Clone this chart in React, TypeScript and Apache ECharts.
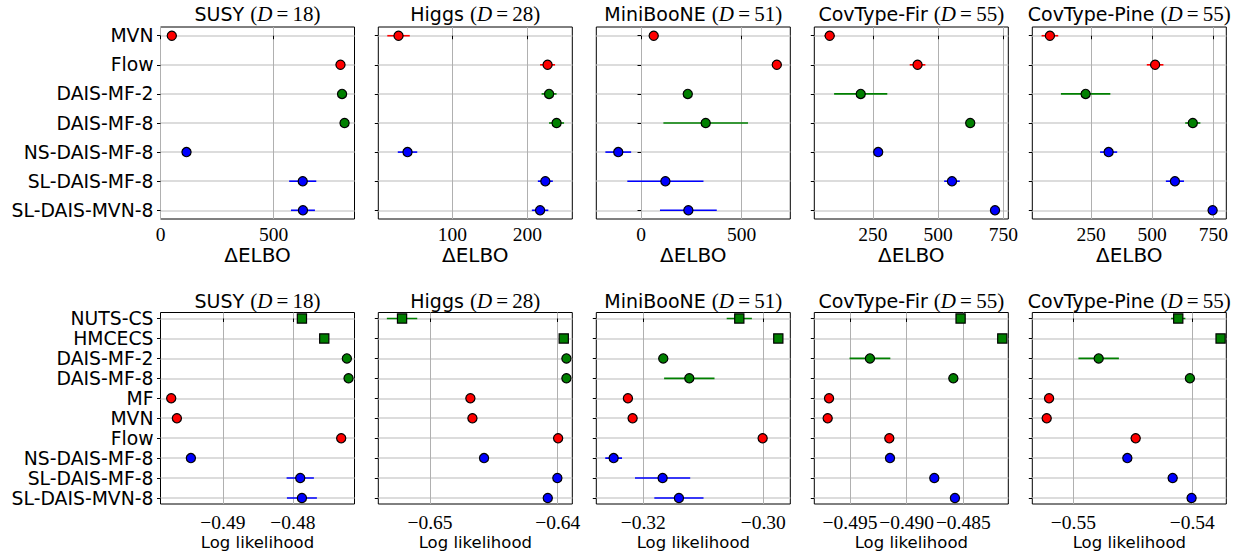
import React, { useEffect, useRef } from "react";
import * as echarts from "echarts";

// ---------- data ----------
const datasets = ["SUSY", "Higgs", "MiniBooNE", "CovType-Fir", "CovType-Pine"];
const dims = [18, 28, 51, 55, 55];

const topMethods = ["MVN", "Flow", "DAIS-MF-2", "DAIS-MF-8", "NS-DAIS-MF-8", "SL-DAIS-MF-8", "SL-DAIS-MVN-8"];
const topGroups = ["red", "red", "green", "green", "blue", "blue", "blue"];

const elboSUSY = [50, 796, 803, 814, 115, 629, 630];
const elboSUSYErr = [8, 8, 8, 8, 10, 60, 53];
const elboHiggs = [28, 227, 229, 239, 40, 224, 217];
const elboHiggsErr = [15, 10, 10, 10, 13, 10, 11];
const elboMini = [63, 674, 232, 321, -113, 121, 235];
const elboMiniErr = [10, 10, 10, 210, 64, 189, 141];
const elboFir = [84, 421, 203, 623, 270, 553, 718];
const elboFirErr = [20, 30, 102, 10, 10, 30, 15];
const elboPine = [82, 512, 228, 666, 322, 593, 747];
const elboPineErr = [34, 34, 101, 31, 35, 37, 15];

const bottomMethods = ["NUTS-CS", "HMCECS", "DAIS-MF-2", "DAIS-MF-8", "MF", "MVN", "Flow", "NS-DAIS-MF-8", "SL-DAIS-MF-8", "SL-DAIS-MVN-8"];
const bottomGroups = ["green", "green", "green", "green", "red", "red", "red", "blue", "blue", "blue"];
const bottomShapes = ["rect", "rect", "circle", "circle", "circle", "circle", "circle", "circle", "circle", "circle"];

const llSUSY = [-0.47871, -0.47552, -0.47229, -0.47205, -0.49738, -0.49657, -0.4731, -0.49457, -0.47895, -0.47871];
const llSUSYErr = [0.0003, 0, 0, 0, 0, 0, 0, 0, 0.00195, 0.00214];
const llHiggs = [-0.65219, -0.63953, -0.63932, -0.63932, -0.64684, -0.64668, -0.63997, -0.64577, -0.64003, -0.64078];
const llHiggsErr = [0.00119, 0.0001, 0, 0, 0, 0, 0, 0, 0, 0];
const llMini = [-0.304, -0.2975, -0.31667, -0.31233, -0.32256, -0.32178, -0.30011, -0.32494, -0.31678, -0.31406];
const llMiniErr = [0.0021, 0.0002, 0, 0.0042, 0, 0, 0, 0.0014, 0.0046, 0.0041];
const llFir = [-0.48524, -0.48156, -0.49324, -0.48588, -0.49685, -0.49697, -0.49153, -0.49147, -0.48756, -0.48574];
const llFirErr = [0.0004, 0, 0.0018, 0, 0, 0, 0.0003, 0, 0.0003, 0];
const llPine = [-0.54118, -0.53762, -0.54787, -0.5402, -0.55204, -0.55224, -0.54476, -0.54546, -0.54165, -0.54006];
const llPineErr = [0.0006, 0, 0.0017, 0, 0, 0, 0.0004, 0.0003, 0.0004, 0];

const topMeans = [elboSUSY, elboHiggs, elboMini, elboFir, elboPine];
const topErrs = [elboSUSYErr, elboHiggsErr, elboMiniErr, elboFirErr, elboPineErr];
const bottomMeans = [llSUSY, llHiggs, llMini, llFir, llPine];
const bottomErrs = [llSUSYErr, llHiggsErr, llMiniErr, llFirErr, llPineErr];

const topTicks = [[0, 500], [100, 200], [0, 500], [250, 500, 750], [250, 500, 750]];
const bottomTicks = [[-0.49, -0.48], [-0.65, -0.64], [-0.32, -0.3], [-0.495, -0.49, -0.485], [-0.55, -0.54]];
const bottomDecimals = [2, 2, 2, 3, 2];

// axis limits
const topRanges = [[0, 858], [1, 260], [-222, 741], [25, 769], [10, 803]];
const bottomRanges = [[-0.49891, -0.4712], [-0.65405, -0.63886], [-0.32783, -0.2955], [-0.49815, -0.48103], [-0.55345, -0.53714]];

// ---------- styles ----------
const COLORS: Record<string, string> = { red: "#ff0000", green: "#008000", blue: "#0000ff" };
const LEFTS = [160.5, 378.3, 596.3, 814.3, 1032.3];
const PW = 194;
const TOP_Y = 27, TOP_H = 192;
const BOT_Y = 312.5, BOT_H = 191.5;
const SANS = "DejaVu Sans";
const SERIF = "Liberation Serif";

const fmtTick = (v: number, dec: number) => {
  const s = Math.abs(v).toFixed(dec);
  return v < 0 ? "\u2212" + s : s;
};

export default function App() {
  const ref = useRef<HTMLDivElement>(null);
  useEffect(() => {
    if (!ref.current) return;
    const chart = echarts.init(ref.current, undefined, { renderer: "svg" });

    const grid: any[] = [];
    const xAxis: any[] = [];
    const yAxis: any[] = [];
    const series: any[] = [];
    const graphic: any[] = [];

    const addPanel = (
      row: number,
      col: number,
      methods: string[],
      groups: string[],
      shapes: string[] | null,
      means: number[],
      errs: number[],
      range: number[],
      ticks: number[],
      dec: number,
      axisName: string
    ) => {
      const gi = grid.length;
      const top = row === 0 ? TOP_Y : BOT_Y;
      const h = row === 0 ? TOP_H : BOT_H;
      grid.push({
        left: LEFTS[col],
        top,
        width: PW,
        height: h,
        show: true,
        borderColor: "#000",
        borderWidth: 1,
        backgroundColor: "transparent",
        containLabel: false,
      });
      const n = methods.length;
      const idx = methods.map((_, i) => i);
      xAxis.push({
        type: "value",
        gridIndex: gi,
        min: range[0],
        max: range[1],
        name: axisName,
        nameLocation: "middle",
        nameGap: row === 0 ? 26 : 30,
        nameTextStyle: { fontFamily: SANS, fontSize: row === 0 ? 20 : 16.5, color: "#000" },
        axisLine: { show: false },
        axisTick: { show: true, inside: false, length: 3.5, lineStyle: { color: "#000", width: 1 }, customValues: ticks },
        axisLabel: {
          customValues: ticks,
          formatter: (v: number) => fmtTick(v, dec),
          fontFamily: SERIF,
          fontSize: 19.5,
          color: "#000",
          margin: row === 0 ? 5 : 8,
          hideOverlap: false,
        },
        splitLine: { show: true, lineStyle: { color: "#b0b0b0", width: 1 } },
      });
      yAxis.push({
        type: "value",
        gridIndex: gi,
        inverse: true,
        min: -0.3,
        max: n - 1 + 0.3,
        axisLine: { show: false },
        axisTick: { show: true, inside: false, length: 3.5, lineStyle: { color: "#000", width: 1 }, customValues: idx },
        axisLabel: {
          show: col === 0,
          customValues: idx,
          formatter: (v: number) => methods[Math.round(v)] ?? "",
          fontFamily: SANS,
          fontSize: 18.8,
          color: "#000",
          margin: 7,
        },
        splitLine: { show: true, lineStyle: { color: "#d0d0d0", width: 1.5 } },
      });
      series.push({
        type: "custom",
        xAxisIndex: gi,
        yAxisIndex: gi,
        z: 3,
        silent: true,
        clip: true,
        data: means.map((m, i) => ({ value: [m, i, errs[i]], itemStyle: { color: COLORS[groups[i]] } })),
        renderItem: (params: any, api: any) => {
          const x = api.value(0), y = api.value(1), e = api.value(2);
          if (!e) return null;
          const p1 = api.coord([x - e, y]);
          const p2 = api.coord([x + e, y]);
          return {
            type: "line",
            shape: { x1: p1[0], y1: p1[1], x2: p2[0], y2: p2[1] },
            style: { stroke: api.visual("color"), lineWidth: 1.6 },
          };
        },
      });
      series.push({
        type: "scatter",
        xAxisIndex: gi,
        yAxisIndex: gi,
        z: 5,
        silent: true,
        data: means.map((m, i) => ({
          value: [m, i],
          symbol: shapes ? shapes[i] : "circle",
          symbolSize: 9.2,
          itemStyle: { color: COLORS[groups[i]], borderColor: "#000", borderWidth: 1.2, opacity: 1 },
        })),
      });
      // title
      graphic.push({
        type: "text",
        x: LEFTS[col] + PW / 2,
        y: row === 0 ? 14 : 300.5,
        silent: true,
        style: {
          text: `{s|${datasets[col]} }{m|(}{i|D}{m|\u2009=\u2009${dims[col]})}`,
          align: "center",
          verticalAlign: "middle",
          rich: {
            s: { fontFamily: SANS, fontSize: 19, fill: "#000", verticalAlign: "middle" },
            m: { fontFamily: SERIF, fontSize: 21, fill: "#000", verticalAlign: "middle" },
            i: { fontFamily: SERIF, fontStyle: "italic", fontSize: 21, fill: "#000", verticalAlign: "middle" },
          },
        },
      });
    };

    for (let c = 0; c < 5; c++) {
      addPanel(0, c, topMethods, topGroups, null, topMeans[c], topErrs[c], topRanges[c], topTicks[c], 0, "\u0394ELBO");
    }
    for (let c = 0; c < 5; c++) {
      addPanel(1, c, bottomMethods, bottomGroups, bottomShapes, bottomMeans[c], bottomErrs[c], bottomRanges[c], bottomTicks[c], bottomDecimals[c], "Log likelihood");
    }

    chart.setOption({
      animation: false,
      backgroundColor: "#fff",
      grid,
      xAxis,
      yAxis,
      series,
      graphic,
    });
    return () => chart.dispose();
  }, []);

  return (
    <div
      ref={ref}
      style={{ position: "fixed", left: 0, top: 0, width: 1233, height: 557, background: "#fff" }}
    />
  );
}
